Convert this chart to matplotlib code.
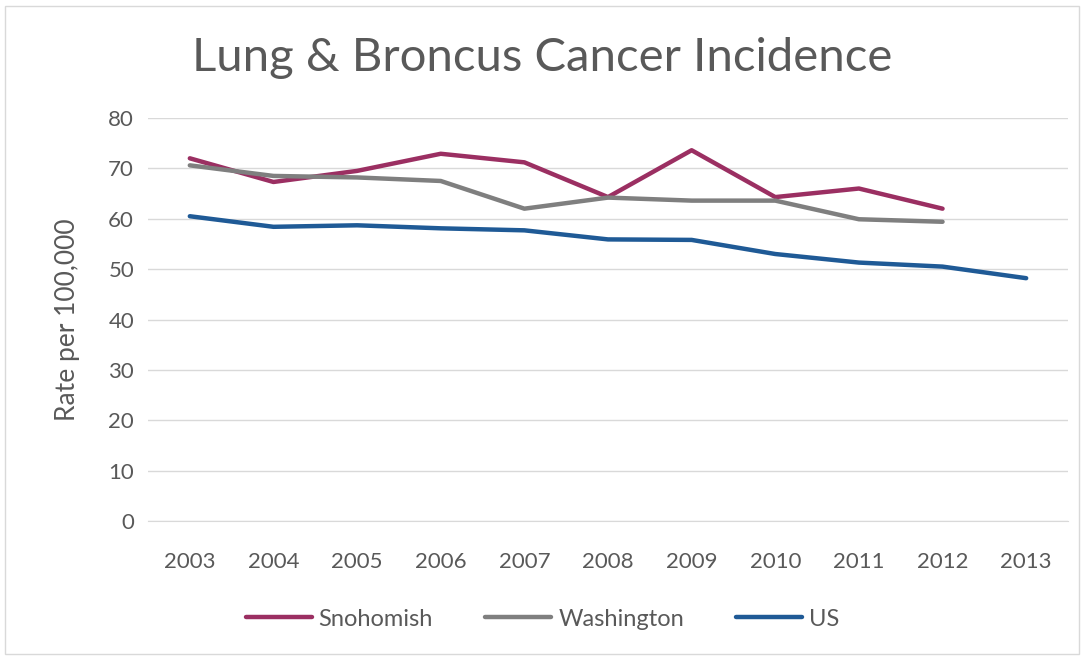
import numpy as np
import matplotlib.pyplot as plt
from matplotlib.patches import Rectangle

# ---- data ----
years = ["2003", "2004", "2005", "2006", "2007", "2008", "2009", "2010", "2011", "2012", "2013"]
snohomish = [72.0, 67.3, 69.5, 72.9, 71.2, 64.3, 73.6, 64.3, 66.0, 62.0, np.nan]
washington = [70.6, 68.5, 68.2, 67.5, 62.0, 64.2, 63.6, 63.6, 59.9, 59.4, np.nan]
us = [60.5, 58.4, 58.7, 58.1, 57.7, 55.9, 55.8, 53.0, 51.3, 50.5, 48.2]

plt.rcParams["font.family"] = ["Lato", "DejaVu Sans"]
text_color = "#595959"

fig = plt.figure(figsize=(10.85, 6.58), dpi=100)
ax = fig.add_axes([148 / 1085, 1 - 521 / 658, 920 / 1085, 403 / 658])

x = np.arange(len(years))
ax.plot(x, snohomish, color="#9B2F62", lw=3.2, label="Snohomish", solid_capstyle="round")
ax.plot(x, washington, color="#7F7F7F", lw=3.2, label="Washington", solid_capstyle="round")
ax.plot(x, us, color="#1F5A96", lw=3.2, label="US", solid_capstyle="round")

ax.set_xlim(-0.5, len(years) - 0.5)
ax.set_ylim(0, 80)
ax.set_yticks(range(0, 81, 10))
ax.set_xticks(x)
ax.set_xticklabels(years)
ax.grid(axis="y", color="#D9D9D9", lw=1)
ax.set_axisbelow(True)
for s in ["top", "right", "left"]:
    ax.spines[s].set_visible(False)
ax.spines["bottom"].set_color("#D9D9D9")
ax.tick_params(length=0, labelsize=16, colors=text_color)
ax.tick_params(axis="x", pad=22)
ax.tick_params(axis="y", pad=10)

ax.set_ylabel("Rate per 100,000", fontsize=19, color=text_color, labelpad=20)

fig.text(0.5, 1 - 58 / 658, "Lung & Broncus Cancer Incidence", ha="center", va="center",
         fontsize=34, color=text_color)

leg = fig.legend(loc="center", bbox_to_anchor=(0.5, 1 - 619 / 658), ncol=3, frameon=False,
                 fontsize=17, handlelength=2.8, columnspacing=2.2, handletextpad=0.3)
for t in leg.get_texts():
    t.set_color(text_color)

fig.patches.append(Rectangle((5 / 1085, 4 / 658), 1074 / 1085, 648 / 658, transform=fig.transFigure,
                             fill=False, edgecolor="#D9D9D9", lw=1))

fig.savefig("out.png", dpi=100)
